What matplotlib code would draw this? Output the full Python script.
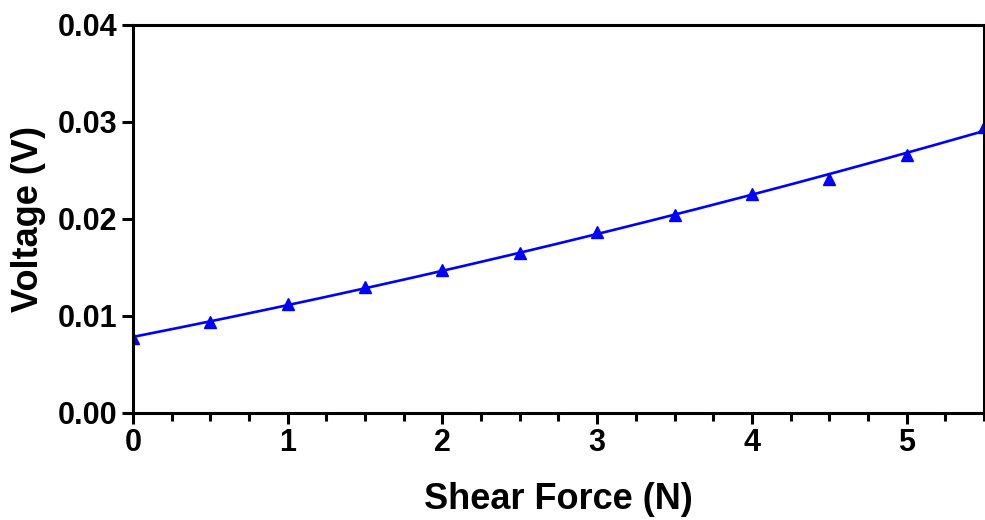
import numpy as np
import matplotlib
matplotlib.use('Agg')
from matplotlib import pyplot as plt
from matplotlib.ticker import MultipleLocator, FormatStrFormatter

# Data
force = [0, 0.5, 1, 1.5, 2, 2.5, 3, 3.5, 4, 4.5, 5, 5.5]
voltage = [0.0077, 0.0094, 0.0112, 0.0130, 0.0147, 0.0165,
           0.0186, 0.0204, 0.0226, 0.0241, 0.0266, 0.0295]

plt.rcParams['font.family'] = ['Liberation Sans', 'DejaVu Sans']
plt.rcParams['font.weight'] = 'bold'

fig = plt.figure(figsize=(9.85, 5.2), dpi=100)
ax = fig.add_axes([0.135, 0.206, 0.864, 0.746])

# quadratic fit line
coef = np.polyfit(force, voltage, 2)
xs = np.linspace(0, 5.5, 200)
ax.plot(xs, np.polyval(coef, xs), color='#0000ff', lw=1.9)
ax.plot(force, voltage, '^', color='#0000ff', markersize=9, clip_on=True)

ax.set_xlim(0, 5.5)
ax.set_ylim(0, 0.04)
ax.xaxis.set_major_locator(MultipleLocator(1))
ax.xaxis.set_minor_locator(MultipleLocator(0.25))
ax.yaxis.set_major_locator(MultipleLocator(0.01))
ax.yaxis.set_major_formatter(FormatStrFormatter('%.2f'))

for s in ax.spines.values():
    s.set_linewidth(2.2)
ax.tick_params(which='major', length=8, width=2.2, labelsize=22, direction='out', pad=3)
ax.tick_params(which='minor', length=6, width=2.2, direction='out')

ax.set_xlabel('Shear Force (N)', fontsize=26, fontweight='bold', labelpad=17)
ax.set_ylabel('Voltage (V)', fontsize=26, fontweight='bold', labelpad=9)

fig.savefig('out.png', dpi=100)
